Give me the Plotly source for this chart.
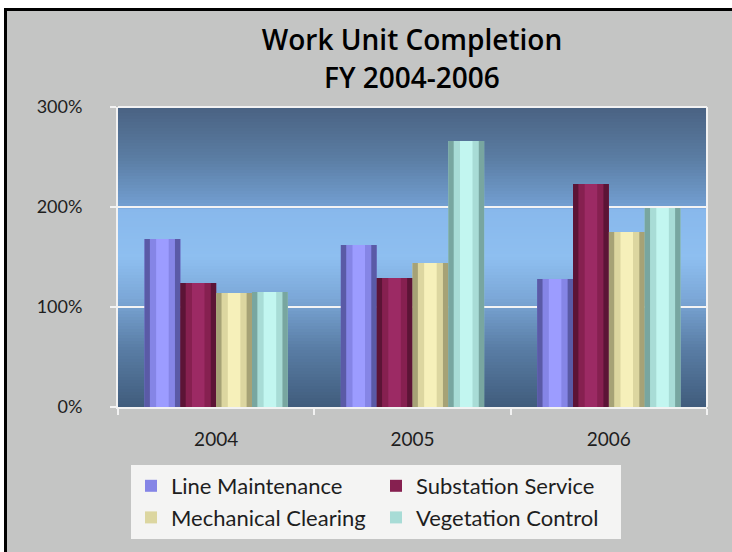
import plotly.graph_objects as go

years = ["2004", "2005", "2006"]
line_maintenance = [168, 162, 128]
substation_service = [124, 129, 223]
mechanical_clearing = [114, 144, 175]
vegetation_control = [115, 266, 199]

title_line1 = "Work Unit Completion"
title_line2 = "FY 2004-2006"

series_names = ["Line Maintenance", "Substation Service", "Mechanical Clearing", "Vegetation Control"]
series_values = [line_maintenance, substation_service, mechanical_clearing, vegetation_control]
# edge / mid / highlight shades for a cylinder-like look
series_edge = ["#5a5aa6", "#5c1436", "#a6a276", "#78a6a0"]
series_mid = ["#8585e6", "#862050", "#dcd6a0", "#a8dcd6"]
series_light = ["#9c9cff", "#9c2a64", "#f6f0ba", "#c2f6f0"]

W, H = 732, 552
ML, MR, MT, MB = 118, 25, 107, 145
PW, PH = W - ML - MR, H - MT - MB
BARGAP = 0.27
SLOT = (1 - BARGAP) / len(series_names)

fig = go.Figure()
for i, (name, vals) in enumerate(zip(series_names, series_values)):
    fig.add_trace(go.Bar(x=years, y=vals, name=name, offsetgroup=name,
                         marker=dict(color=series_mid[i], line=dict(width=0))))
for i, (name, vals) in enumerate(zip(series_names, series_values)):
    fig.add_trace(go.Bar(x=years, y=vals, name=name, offsetgroup=name, showlegend=False,
                         width=SLOT, hoverinfo="skip",
                         marker=dict(color=series_edge[i], line=dict(width=0))))
    fig.add_trace(go.Bar(x=years, y=vals, name=name, offsetgroup=name, showlegend=False,
                         width=SLOT * 0.7, hoverinfo="skip",
                         marker=dict(color=series_mid[i], line=dict(width=0))))
    fig.add_trace(go.Bar(x=years, y=vals, name=name, offsetgroup=name, showlegend=False,
                         width=SLOT * 0.35, hoverinfo="skip",
                         marker=dict(color=series_light[i], line=dict(width=0))))

# plot-area vertical gradient
stops = [(0, (0x40, 0x5c, 0x7c)), (60, (0x5a, 0x7e, 0xa6)), (110, (0x7c, 0xa8, 0xd8)),
         (150, (0x8e, 0xbf, 0xf0)), (198, (0x88, 0xb8, 0xec)), (202, (0x72, 0x9e, 0xd0)),
         (250, (0x5a, 0x7c, 0xa2)), (300, (0x4a, 0x62, 0x82))]
def col_at(v):
    for (a, ca), (b, cb) in zip(stops[:-1], stops[1:]):
        if a <= v <= b:
            t = (v - a) / (b - a) if b > a else 0
            return "rgb(%d,%d,%d)" % tuple(round(ca[i] + (cb[i] - ca[i]) * t) for i in range(3))
    return "rgb(74,98,130)"

shapes = []
step = 3
for v in range(0, 300, step):
    shapes.append(dict(type="rect", xref="paper", yref="y", x0=0, x1=1, y0=v, y1=v + step,
                       fillcolor=col_at(v + step / 2), line=dict(width=0), layer="below"))

def px_x(p):
    return (p - ML) / PW
def px_y(p):
    return (H - MB - p) / PH

shapes += [
    dict(type="rect", xref="paper", yref="paper", x0=px_x(0), x1=px_x(W), y0=px_y(0), y1=px_y(8),
         fillcolor="white", line=dict(width=0), layer="below"),
    dict(type="rect", xref="paper", yref="paper", x0=px_x(0), x1=px_x(4), y0=px_y(0), y1=px_y(H),
         fillcolor="white", line=dict(width=0), layer="below"),
    dict(type="rect", xref="paper", yref="paper", x0=px_x(4), x1=px_x(W), y0=px_y(8), y1=px_y(11),
         fillcolor="black", line=dict(width=0), layer="below"),
    dict(type="rect", xref="paper", yref="paper", x0=px_x(4), x1=px_x(7), y0=px_y(8), y1=px_y(H),
         fillcolor="black", line=dict(width=0), layer="below"),
    dict(type="line", xref="paper", yref="paper", x0=1, x1=1, y0=0, y1=1,
         line=dict(color="#f2f2f2", width=2)),
    dict(type="line", xref="paper", yref="paper", x0=0, x1=1, y0=1, y1=1,
         line=dict(color="#f2f2f2", width=2)),
]

title_font = dict(size=28, color="black", family="Open Sans, sans-serif", weight=600)

fig.update_layout(
    width=W, height=H,
    margin=dict(l=ML, r=MR, t=MT, b=MB),
    paper_bgcolor="#c4c5c4",
    plot_bgcolor="rgba(0,0,0,0)",
    barmode="group", bargap=BARGAP, bargroupgap=0,
    font=dict(family="Lato, Open Sans, sans-serif", color="#1e1e1e"),
    title=dict(text=title_line1, x=412 / W, xanchor="center", y=1 - 40 / H, yanchor="middle",
               font=title_font),
    annotations=[dict(text=title_line2, xref="paper", yref="paper", x=px_x(412), y=px_y(77),
                      xanchor="center", yanchor="middle", showarrow=False, font=title_font)],
    showlegend=True,
    legend=dict(orientation="h", x=px_x(131), y=px_y(465), xref="paper", yref="paper",
                xanchor="left", yanchor="top",
                bgcolor="#f4f4f3", borderwidth=0,
                entrywidth=200, entrywidthmode="pixels",
                font=dict(size=22, color="#1e1e1e"),
                traceorder="normal"),
    shapes=shapes,
    xaxis=dict(showline=True, linecolor="#f2f2f2", linewidth=2,
               ticks="outside", tickson="boundaries", tickcolor="#f2f2f2", ticklen=6, tickwidth=2,
               tickfont=dict(size=19), ticklabelstandoff=14, showgrid=False),
    yaxis=dict(range=[0, 300], dtick=100, ticksuffix="%", showline=True, linecolor="#f2f2f2",
               linewidth=2, ticks="outside", tickcolor="#f2f2f2", ticklen=6, tickwidth=2,
               gridcolor="#f4f4f4", gridwidth=2, zeroline=False,
               tickfont=dict(size=18), ticklabelstandoff=24),
)

fig.write_html("out.html", config={"displayModeBar": False},
               post_script="document.documentElement.style.overflow='hidden';"
                           "document.body.style.margin='0';document.body.style.overflow='hidden';")
